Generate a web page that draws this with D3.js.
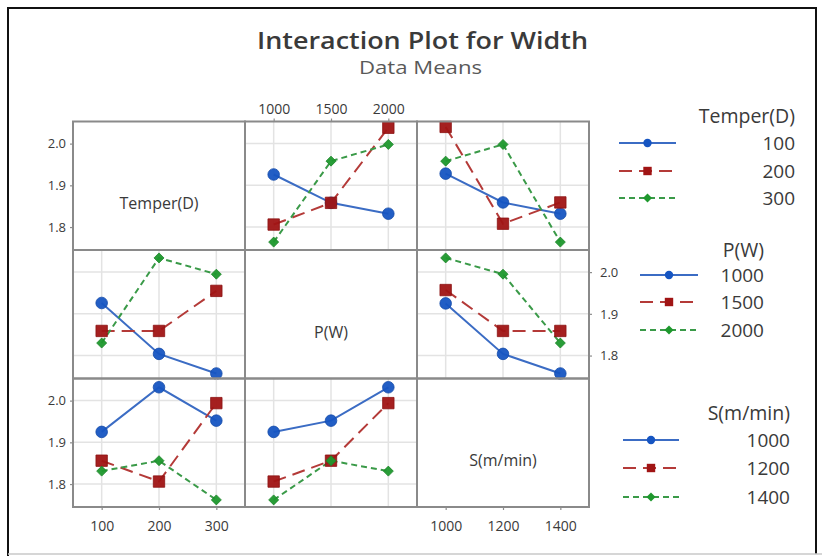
<!DOCTYPE html>
<html><head><meta charset="utf-8">
<script src="https://cdn.jsdelivr.net/npm/d3@7"></script>
<style>
html,body{margin:0;padding:0;background:#fff;}
svg{display:block;font-family:"Open Sans","Noto Sans",sans-serif;}
</style></head><body>
<svg id="chart" width="822" height="556"></svg>
<script>
// Factors and their levels
const factorNames = ["Temper(D)", "P(W)", "S(m/min)"];
const temperLevels = ["100", "200", "300"];
const powerLevels = ["1000", "1500", "2000"];
const speedLevels = ["1000", "1200", "1400"];
const yTickValues = [1.8, 1.9, 2.0];

// Mean width; each row of an array is one line (level of the row factor),
// each column one level of the column factor.
const temperByPower = [[1.926, 1.858, 1.832], [1.806, 1.858, 2.038], [1.764, 1.958, 1.998]];
const temperBySpeed = [[1.928, 1.859, 1.832], [2.040, 1.808, 1.859], [1.958, 1.998, 1.764]];
const powerByTemper = [[1.926, 1.804, 1.757], [1.859, 1.859, 1.955], [1.830, 2.034, 1.995]];
const powerBySpeed  = [[1.925, 1.804, 1.757], [1.957, 1.859, 1.859], [2.034, 1.995, 1.830]];
const speedByTemper = [[1.925, 2.032, 1.952], [1.856, 1.806, 1.994], [1.831, 1.856, 1.762]];
const speedByPower  = [[1.925, 1.952, 2.032], [1.806, 1.856, 1.994], [1.762, 1.856, 1.831]];

const factorLevels = [temperLevels, powerLevels, speedLevels];
const cells = [
  {row: 0, col: 1, values: temperByPower},
  {row: 0, col: 2, values: temperBySpeed},
  {row: 1, col: 0, values: powerByTemper},
  {row: 1, col: 2, values: powerBySpeed},
  {row: 2, col: 0, values: speedByTemper},
  {row: 2, col: 1, values: speedByPower}
];

const svg = d3.select("#chart");
const FONT = '"Open Sans","Noto Sans",sans-serif';
const INK = "#3a3a3a";

// Grid geometry
const gridLeft = 73, gridTop = 121.5, cellW = 172, cellH = 128.5;

const series = [
  {fill: "#1655c2", stroke: "#3b6cc4", dash: null, shape: "circle"},
  {fill: "#a01414", stroke: "#b43a38", dash: "13,7", shape: "square"},
  {fill: "#1e982d", stroke: "#3a9a48", dash: "6,4", shape: "diamond"}
];

function markerPath(shape, s) {
  if (shape === "circle") {
    const p = d3.path(); p.arc(0, 0, s, 0, 2 * Math.PI); return p.toString();
  }
  if (shape === "square") return `M${-s},${-s}H${s}V${s}H${-s}Z`;
  return `M0,${-s}L${s},0L0,${s}L${-s},0Z`;
}
const markerSize = {circle: 5.8, square: 5.7, diamond: 5};
const legendMarkerSize = {circle: 4.2, square: 4.2, diamond: 4.5};

// Outer frame
svg.append("rect").attr("x", 0).attr("y", 0).attr("width", 822).attr("height", 556).attr("fill", "#fff");
svg.append("path").attr("d", "M8,556V8H816V554").attr("fill", "none").attr("stroke", "#111").attr("stroke-width", 2);
svg.append("line").attr("x1", 8).attr("x2", 822).attr("y1", 554).attr("y2", 554)
  .attr("stroke", "#c8c8c8").attr("stroke-width", 1.5);

// Titles
svg.append("text").attr("x", 422.5).attr("y", 49).attr("text-anchor", "middle")
  .attr("font-size", 24).attr("font-weight", 600).attr("fill", INK)
  .attr("textLength", 331).attr("lengthAdjust", "spacingAndGlyphs")
  .text("Interaction Plot for Width");
svg.append("text").attr("x", 420.5).attr("y", 74).attr("text-anchor", "middle")
  .attr("font-size", 18.5).attr("fill", "#595959")
  .attr("textLength", 123).attr("lengthAdjust", "spacingAndGlyphs")
  .text("Data Means");

const y = d3.scaleLinear().domain([1.745, 2.053]).range([cellH, 0]);
const xScales = factorLevels.map(lv => d3.scalePoint().domain(lv).range([0, cellW]).padding(0.5));

function styleAxis(g, size) {
  g.select(".domain").remove();
  g.selectAll(".tick line").attr("stroke", "#8c8c8c").attr("stroke-width", 1.2);
  g.selectAll(".tick text").attr("fill", INK).attr("font-size", size).attr("font-family", FONT);
}

// Diagonal factor names
for (let r = 0; r < 3; r++) {
  svg.append("text")
    .attr("x", gridLeft + r * cellW + cellW / 2).attr("y", gridTop + r * cellH + 87.5)
    .attr("text-anchor", "middle").attr("font-size", 16).attr("fill", INK).text(factorNames[r]);
}

cells.forEach(cell => {
  const x = xScales[cell.col];
  const levels = factorLevels[cell.col];
  const g = svg.append("g")
    .attr("transform", `translate(${gridLeft + cell.col * cellW},${gridTop + cell.row * cellH})`);
  // gridlines
  g.selectAll("line.vg").data(levels).join("line").attr("class", "vg")
    .attr("x1", d => x(d)).attr("x2", d => x(d)).attr("y1", 0).attr("y2", cellH)
    .attr("stroke", "#e3e3e3").attr("stroke-width", 1.5);
  g.selectAll("line.hg").data(yTickValues).join("line").attr("class", "hg")
    .attr("x1", 0).attr("x2", cellW).attr("y1", d => y(d)).attr("y2", d => y(d))
    .attr("stroke", "#e3e3e3").attr("stroke-width", 1.5);

  const line = d3.line().x((d, i) => x(levels[i])).y(d => y(d));
  cell.values.forEach((vals, si) => {
    const st = series[si];
    g.append("path").attr("d", line(vals)).attr("fill", "none")
      .attr("stroke", st.stroke).attr("stroke-width", 2)
      .attr("stroke-dasharray", st.dash);
  });
  cell.values.forEach((vals, si) => {
    const st = series[si];
    g.selectAll(null).data(vals).join("path")
      .attr("transform", (d, i) => `translate(${x(levels[i])},${y(d)})`)
      .attr("d", markerPath(st.shape, markerSize[st.shape]))
      .attr("fill", st.fill).attr("fill-opacity", 0.95)
      .attr("stroke", d3.color(st.fill).darker(0.4)).attr("stroke-width", 0.8);
  });
});

// Panel borders
for (let r = 0; r < 3; r++) {
  for (let c = 0; c < 3; c++) {
    svg.append("rect").attr("x", gridLeft + c * cellW).attr("y", gridTop + r * cellH)
      .attr("width", cellW).attr("height", cellH)
      .attr("fill", "none").attr("stroke", "#8a8a8a").attr("stroke-width", 2);
  }
}

// Axes
const yFmt = d3.format(".1f");
[0, 2].forEach(r => {
  svg.append("g").attr("transform", `translate(${gridLeft},${gridTop + r * cellH})`)
    .call(d3.axisLeft(y).tickValues(yTickValues).tickFormat(yFmt).tickSize(3).tickPadding(4))
    .call(g => styleAxis(g, 13));
});
svg.append("g").attr("transform", `translate(${gridLeft + 3 * cellW},${gridTop + cellH})`)
  .call(d3.axisRight(y).tickValues(yTickValues).tickFormat(yFmt).tickSize(3).tickPadding(8))
  .call(g => styleAxis(g, 13));
svg.append("g").attr("transform", `translate(${gridLeft + cellW},${gridTop})`)
  .call(d3.axisTop(xScales[1]).tickSize(3).tickPadding(5))
  .call(g => styleAxis(g, 14));
[0, 2].forEach(c => {
  svg.append("g").attr("transform", `translate(${gridLeft + c * cellW},${gridTop + 3 * cellH})`)
    .call(d3.axisBottom(xScales[c]).tickSize(3).tickPadding(11))
    .call(g => styleAxis(g, 14));
});

// Legends
const legends = [
  {title: factorNames[0], labels: temperLevels, right: 795, titleY: 116, rowY: [143, 171, 198], x1: 619, x2: 676},
  {title: factorNames[1], labels: powerLevels, right: 764, titleY: 250, rowY: [275, 302, 330], x1: 640, x2: 698},
  {title: factorNames[2], labels: speedLevels, right: 790, titleY: 413, rowY: [440, 468, 497], x1: 623, x2: 679}
];
legends.forEach(lg => {
  const g = svg.append("g");
  g.append("text").attr("x", lg.right).attr("y", lg.titleY).attr("dy", "0.35em")
    .attr("text-anchor", "end").attr("font-size", 19.5).attr("fill", INK).text(lg.title);
  lg.labels.forEach((lab, i) => {
    const st = series[i];
    const yy = lg.rowY[i];
    const mid = (lg.x1 + lg.x2) / 2;
    g.append("line").attr("x1", lg.x1).attr("x2", lg.x2).attr("y1", yy).attr("y2", yy)
      .attr("stroke", st.stroke).attr("stroke-width", 2).attr("stroke-dasharray", st.dash);
    g.append("path").attr("transform", `translate(${mid},${yy})`)
      .attr("d", markerPath(st.shape, legendMarkerSize[st.shape])).attr("fill", st.fill);
    g.append("text").attr("x", lg.right).attr("y", yy).attr("dy", "0.35em")
      .attr("text-anchor", "end").attr("font-size", 19).attr("fill", INK).text(lab);
  });
});
</script>
</body></html>
